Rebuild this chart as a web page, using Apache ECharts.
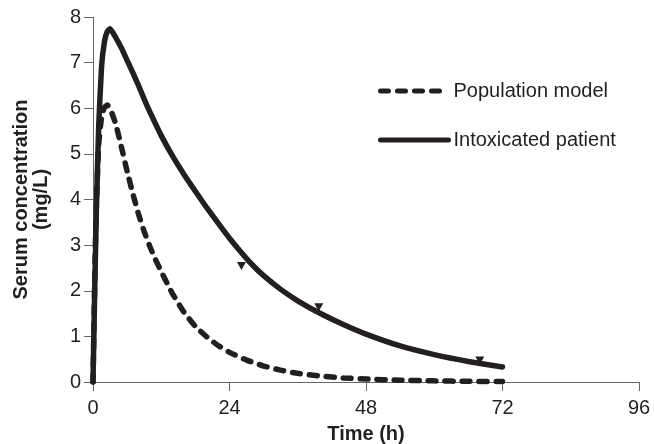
<!DOCTYPE html>
<html>
<head>
<meta charset="utf-8">
<script src="https://cdn.jsdelivr.net/npm/echarts@6/dist/echarts.min.js"></script>
<style>
  html, body { margin: 0; padding: 0; background: #fff; }
  #chart { width: 654px; height: 444px; }
</style>
</head>
<body>
<div id="chart"></div>
<script>
// 时间 (h) 和浓度 (mg/L)
const popTimes = [0, 0.5, 1, 1.5, 2, 2.5, 3, 4, 5, 6, 7, 8, 9, 10, 11, 12, 13, 14, 16, 18, 20, 22, 24, 27, 30, 33, 36, 40, 44, 48, 54, 60, 66, 72]
const popValues = [0, 3.5, 5.2, 5.8, 6.02, 6.07, 6.0, 5.65, 5.15, 4.62, 4.13, 3.68, 3.3, 2.97, 2.68, 2.42, 2.17, 1.93, 1.53, 1.22, 0.99, 0.8, 0.65, 0.48, 0.35, 0.26, 0.19, 0.13, 0.09, 0.065, 0.04, 0.025, 0.015, 0.01]

const patTimes = [0, 0.3, 0.6, 1, 1.5, 2, 2.5, 3, 4, 5, 6, 7, 8, 9, 10, 12, 14, 16, 18, 20, 22, 24, 26, 28, 30, 33, 36, 40, 44, 48, 54, 60, 66, 72]
const patValues = [0, 2.0, 3.8, 5.6, 6.9, 7.45, 7.68, 7.74, 7.55, 7.32, 7.05, 6.78, 6.5, 6.2, 5.92, 5.4, 4.95, 4.55, 4.18, 3.82, 3.48, 3.15, 2.85, 2.57, 2.33, 2.03, 1.78, 1.5, 1.26, 1.05, 0.79, 0.6, 0.45, 0.33]

// 实测点
const obsTimes = [26.1, 39.7, 68]
const obsValues = [2.54, 1.64, 0.47]

const xTicks = [0, 24, 48, 72, 96]
const seriesNames = ['Population model', 'Intoxicated patient']

const ink = '#231f20'
const axisColor = '#666'
const font = 'Liberation Sans, Arial, sans-serif'

function pairs(xs, ys) {
  return xs.map((x, i) => [x, ys[i]])
}

const chart = echarts.init(document.getElementById('chart'), null, { renderer: 'canvas' })

const option = {
  animation: false,
  backgroundColor: '#fff',
  textStyle: { fontFamily: font, color: ink },
  // 固定绘图区，不让坐标轴标题挤压网格
  grid: { left: 93, right: 15, top: 17, bottom: 62, outerBoundsMode: 'none', containLabel: false },
  legend: {
    data: seriesNames,
    orient: 'vertical',
    left: 378,
    top: 81,
    padding: 0,
    itemWidth: 68,
    itemHeight: 20,
    itemGap: 29,
    // 只画线，不画圆点
    itemStyle: { opacity: 0 },
    lineStyle: { width: 5, cap: 'round' },
    textStyle: { fontSize: 20, color: ink, fontFamily: font }
  },
  xAxis: {
    type: 'value',
    min: xTicks[0],
    max: xTicks[xTicks.length - 1],
    interval: 24,
    name: 'Time (h)',
    nameLocation: 'middle',
    nameGap: 42,
    nameTextStyle: { fontSize: 20, fontWeight: 'bold', color: ink },
    axisLine: { lineStyle: { color: axisColor, width: 1 } },
    axisTick: { show: true, length: 9, lineStyle: { color: axisColor } },
    axisLabel: { fontSize: 20, color: ink, margin: 16 },
    splitLine: { show: false }
  },
  yAxis: {
    type: 'value',
    min: 0,
    max: 8,
    interval: 1,
    name: 'Serum concentration\n(mg/L)',
    nameLocation: 'middle',
    nameGap: 42,
    nameTextStyle: { fontSize: 20, fontWeight: 'bold', color: ink, lineHeight: 20 },
    axisLine: { show: true, lineStyle: { color: axisColor, width: 1 } },
    axisTick: { show: true, length: 9, lineStyle: { color: axisColor } },
    axisLabel: { fontSize: 20, color: ink, margin: 12 },
    splitLine: { show: false }
  },
  series: [
    {
      name: seriesNames[0],
      type: 'line',
      data: pairs(popTimes, popValues),
      symbol: 'none',
      smooth: 0.15,
      lineStyle: { color: ink, width: 5.5, type: [8, 9], cap: 'round' },
      itemStyle: { color: ink },
      z: 3
    },
    {
      name: seriesNames[1],
      type: 'line',
      data: pairs(patTimes, patValues),
      symbol: 'none',
      smooth: 0.15,
      lineStyle: { color: ink, width: 5.5, cap: 'round' },
      itemStyle: { color: ink },
      z: 2
    },
    {
      name: 'Observed',
      type: 'scatter',
      data: pairs(obsTimes, obsValues),
      symbol: 'triangle',
      symbolRotate: 180,
      symbolSize: [9, 8],
      itemStyle: { color: ink, opacity: 1 },
      z: 4
    }
  ]
}

chart.setOption(option)
</script>
</body>
</html>
